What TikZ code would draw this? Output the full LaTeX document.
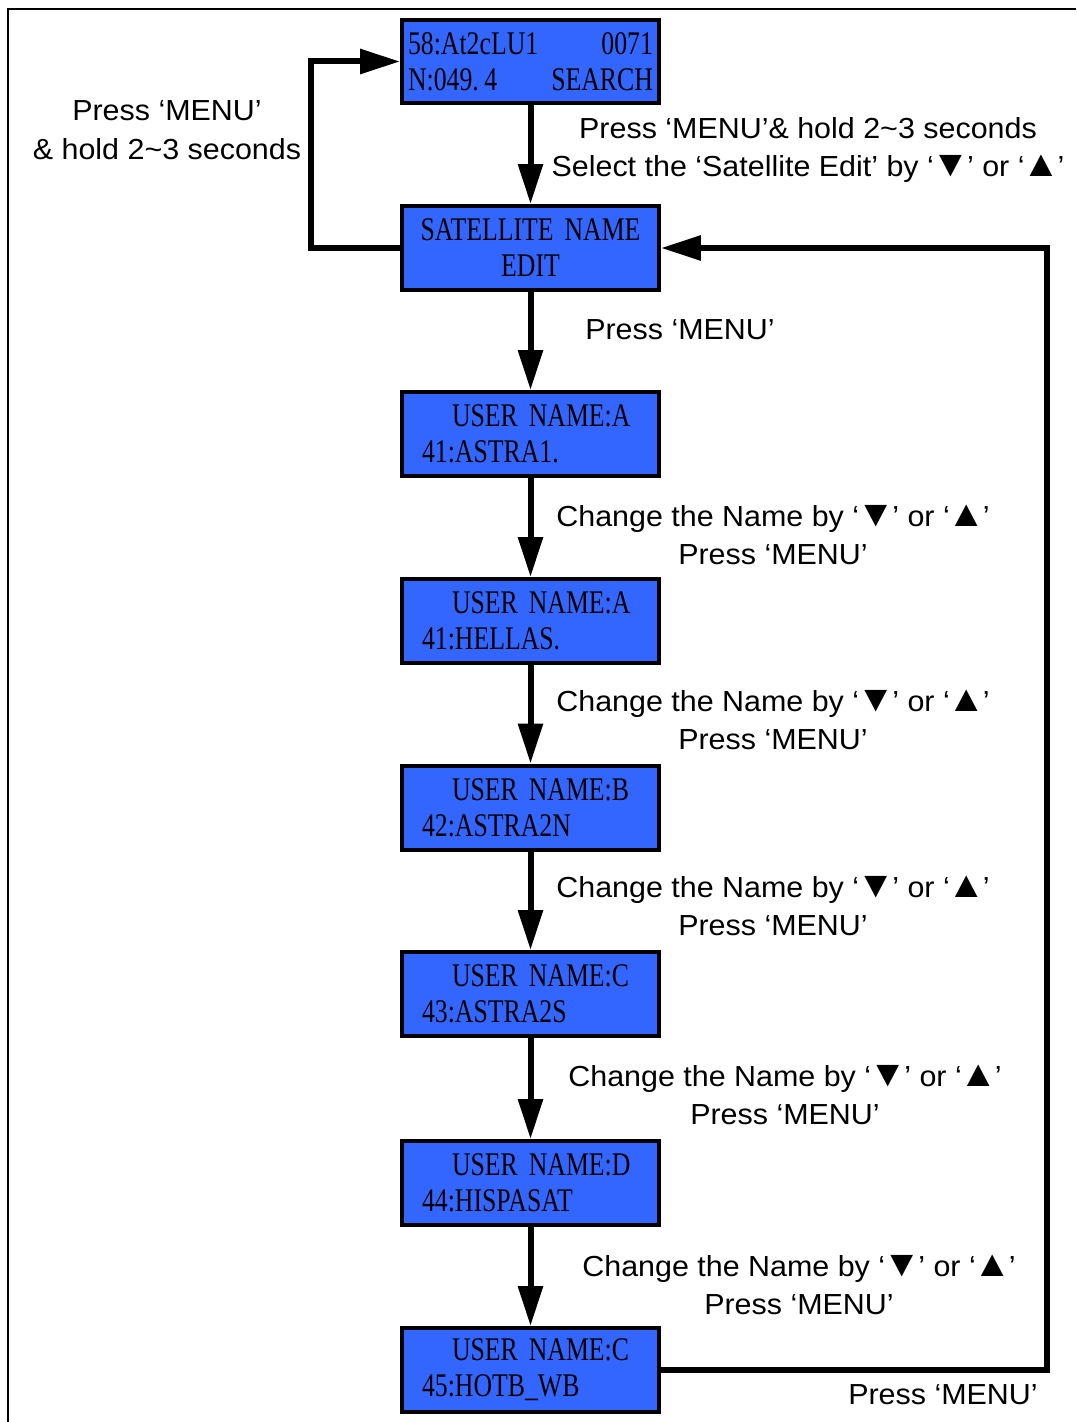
\documentclass[tikz,border=0pt]{standalone}
\usepackage{fontspec}
\setmainfont{Liberation Sans}[FakeStretch=1.05]
\newfontfamily\lcdfont[FakeStretch=0.78]{Liberation Serif}
\usetikzlibrary{arrows.meta}
\definecolor{lcdblue}{RGB}{51,102,255}
\newcommand{\keydn}{\kern-1.5pt{\fontsize{21}{21}\selectfont ▼}\kern-1.5pt}
\newcommand{\keyup}{\kern-1.5pt{\fontsize{21}{21}\selectfont ▲}\kern-1.5pt}

\begin{document}
\begin{tikzpicture}[x=0.02cm, y=-0.02cm,
  lcd/.style={draw, line width=0.08cm, fill=lcdblue, minimum width=5.14cm, minimum height=1.68cm,
    inner xsep=0.4cm, inner ysep=0pt, text width=4.34cm, align=left,
    font=\lcdfont\fontsize{18.8}{20.5}\selectfont},
  flow/.style={line width=0.12cm, -{Triangle[length=0.8cm,width=0.48cm]}},
  note/.style={align=center, font=\fontsize{16.5}{22}\selectfont}]
  \useasboundingbox (0,0) rectangle (1076,1422);
  \draw[line width=0.04cm] (1076,9) -- (8,9) -- (8,1422);

  \node[lcd, inner xsep=0.12cm, text width=4.9cm] (search) at (530.5,61.5) {58:At2cLU1\hfill 0071\\N:049.\,4\hfill SEARCH};
  \node[lcd, inner xsep=0.12cm, text width=4.9cm, align=center] (satname) at (530.5,248) {SATELLITE NAME\\EDIT};
  \node[lcd] (userA1) at (530.5,434) {\hspace*{0.6cm}USER NAME:A\\41:ASTRA1.};
  \node[lcd] (userA2) at (530.5,621) {\hspace*{0.6cm}USER NAME:A\\41:HELLAS.};
  \node[lcd] (userB) at (530.5,807.5) {\hspace*{0.6cm}USER NAME:B\\42:ASTRA2N};
  \node[lcd] (userC1) at (530.5,994) {\hspace*{0.6cm}USER NAME:C\\43:ASTRA2S};
  \node[lcd] (userD) at (530.5,1183) {\hspace*{0.6cm}USER NAME:D\\44:HISPASAT};
  \node[lcd] (userC2) at (530.5,1370) {\hspace*{0.6cm}USER NAME:C\\45:HOTB\_WB};

  \draw[flow] (search) -- (satname);
  \draw[flow] (satname) -- (userA1);
  \draw[flow] (userA1) -- (userA2);
  \draw[flow] (userA2) -- (userB);
  \draw[flow] (userB) -- (userC1);
  \draw[flow] (userC1) -- (userD);
  \draw[flow] (userD) -- (userC2);
  \draw[flow] (satname.west) -- ++(-89,0) |- (search.west);
  \draw[flow] (userC2.east) -- ++(386,0) |- (satname.east);

  \node[note] (holdL) at (167,130) {Press ‘MENU’\\\& hold 2\textasciitilde3 seconds};
  \node[note] (holdR) at (808,150) {Press ‘MENU’\& hold 2\textasciitilde3 seconds\\Select the ‘Satellite Edit’ by ‘\keydn’ or ‘\keyup’};
  \node[note] (menu1) at (680,330) {Press ‘MENU’};
  \node[note] (chg1) at (773,535) {Change the Name by ‘\keydn’ or ‘\keyup’\\Press ‘MENU’};
  \node[note] (chg2) at (773,720) {Change the Name by ‘\keydn’ or ‘\keyup’\\Press ‘MENU’};
  \node[note] (chg3) at (773,906) {Change the Name by ‘\keydn’ or ‘\keyup’\\Press ‘MENU’};
  \node[note] (chg4) at (785,1095) {Change the Name by ‘\keydn’ or ‘\keyup’\\Press ‘MENU’};
  \node[note] (chg5) at (799,1285) {Change the Name by ‘\keydn’ or ‘\keyup’\\Press ‘MENU’};
  \node[note] (menu2) at (943,1395) {Press ‘MENU’};
\end{tikzpicture}
\end{document}
